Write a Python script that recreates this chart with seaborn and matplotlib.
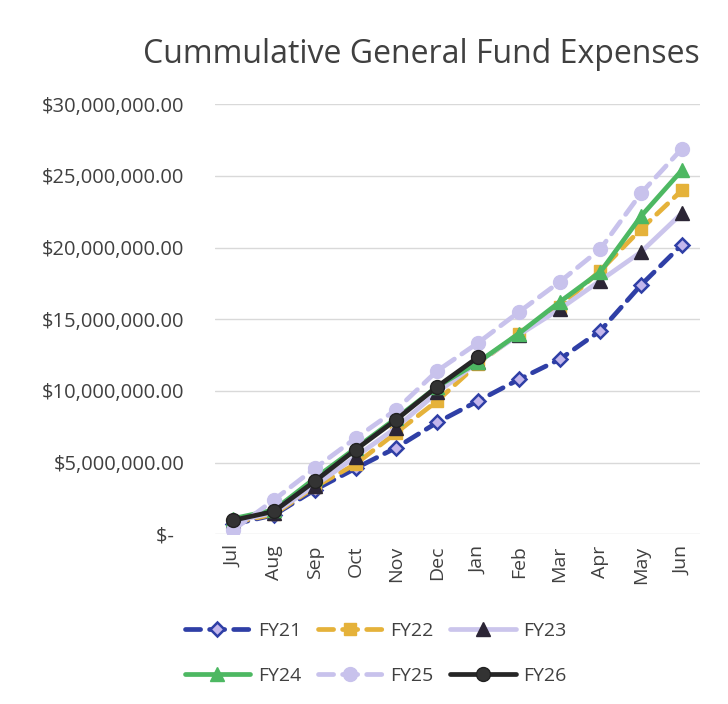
import matplotlib
matplotlib.use("Agg")
import matplotlib.pyplot as plt
import seaborn as sns
import numpy as np
from matplotlib.ticker import FuncFormatter, MultipleLocator

months = ["Jul", "Aug", "Sep", "Oct", "Nov", "Dec", "Jan", "Feb", "Mar", "Apr", "May", "Jun"]

fy21 = [0.7, 1.35, 3.1, 4.6, 6.05, 7.8, 9.3, 10.8, 12.2, 14.2, 17.4, 20.2]
fy22 = [0.8, 1.4, 3.3, 4.9, 7.1, 9.3, 11.9, 14.0, 15.85, 18.4, 21.3, 24.0]
fy23 = [0.9, 1.5, 3.4, 5.4, 7.45, 9.9, 12.0, 13.9, 15.7, 17.7, 19.7, 22.4]
fy24 = [1.1, 1.7, 3.9, 6.0, 8.1, 10.3, 12.0, 14.0, 16.2, 18.3, 22.2, 25.4]
fy25 = [0.3, 2.4, 4.6, 6.7, 8.7, 11.4, 13.35, 15.5, 17.6, 19.9, 23.8, 26.9]
fy26 = [0.98, 1.6, 3.7, 5.9, 8.0, 10.3, 12.35]

series = {
    "FY21": fy21, "FY22": fy22, "FY23": fy23,
    "FY24": fy24, "FY25": fy25, "FY26": fy26,
}

styles = {
    "FY21": dict(color="#2F3FA6", dashes=(3.2, 1.9), marker="D", mfc="#C3B6EC", mec="#2F3FA6", ms=7.5, mew=1.8),
    "FY22": dict(color="#E5B23A", dashes=(3.2, 1.9), marker="s", mfc="#E5B23A", mec="#E5B23A", ms=8, mew=1),
    "FY23": dict(color="#CBC5EC", dashes=None, marker="^", mfc="#2B2535", mec="#2B2535", ms=10, mew=1),
    "FY24": dict(color="#4DB862", dashes=None, marker="^", mfc="#4DB862", mec="#4DB862", ms=10, mew=1),
    "FY25": dict(color="#C8C2EC", dashes=(3.2, 1.9), marker="o", mfc="#C8C2EC", mec="#C8C2EC", ms=10, mew=1),
    "FY26": dict(color="#262626", dashes=None, marker="o", mfc="#333333", mec="#222222", ms=10, mew=1),
}

sns.set_theme(style="white")
plt.rcParams["font.family"] = ["Open Sans", "DejaVu Sans"]

fig = plt.figure(figsize=(7.28, 7.04), dpi=100)
ax = fig.add_axes([0.295, 0.241, 0.667, 0.611])

for name, vals in series.items():
    st = styles[name]
    y = np.array(vals) * 1e6
    sns.lineplot(x=months[:len(vals)], y=y, ax=ax, sort=False, color=st["color"],
                 linewidth=3.4, label=name, legend=False)
    line = ax.lines[-1]
    line.set_label(name)
    if st["dashes"] is not None:
        line.set_dashes(st["dashes"])
        line.set_dash_capstyle("round")
    line.set_marker(st["marker"])
    line.set_markerfacecolor(st["mfc"])
    line.set_markeredgecolor(st["mec"])
    line.set_markersize(st["ms"])
    line.set_markeredgewidth(st["mew"])

ax.set_ylim(0, 30e6)
ax.set_xlim(-0.45, 11.45)
ax.yaxis.set_major_locator(MultipleLocator(5e6))
ax.yaxis.set_major_formatter(FuncFormatter(lambda v, p: "$-  " if v == 0 else f"${v:,.2f}"))
ax.grid(axis="y", color="#D9D9D9", linewidth=1)
for s in ax.spines.values():
    s.set_visible(False)
ax.tick_params(axis="y", labelsize=14.5, labelcolor="#404040", length=0, pad=22)
ax.tick_params(axis="x", labelsize=14, labelcolor="#404040", length=0, rotation=90, pad=8)
ax.set_xlabel("")
ax.set_ylabel("")

fig.text(0.579, 0.922, "Cummulative General Fund Expenses", ha="center", va="center",
         fontsize=23, color="#404040")

lines = {l.get_label(): l for l in ax.lines}
order = ["FY21", "FY24", "FY22", "FY25", "FY23", "FY26"]
fig.legend([lines[k] for k in order], order, ncol=3, loc="upper left",
           bbox_to_anchor=(0.254, 0.117), frameon=False, fontsize=14,
           handlelength=3.35, columnspacing=0.85, handletextpad=0.4,
           labelspacing=1.4, borderpad=0, borderaxespad=0, labelcolor="#404040")

fig.savefig("out.png", dpi=100, facecolor="white")
